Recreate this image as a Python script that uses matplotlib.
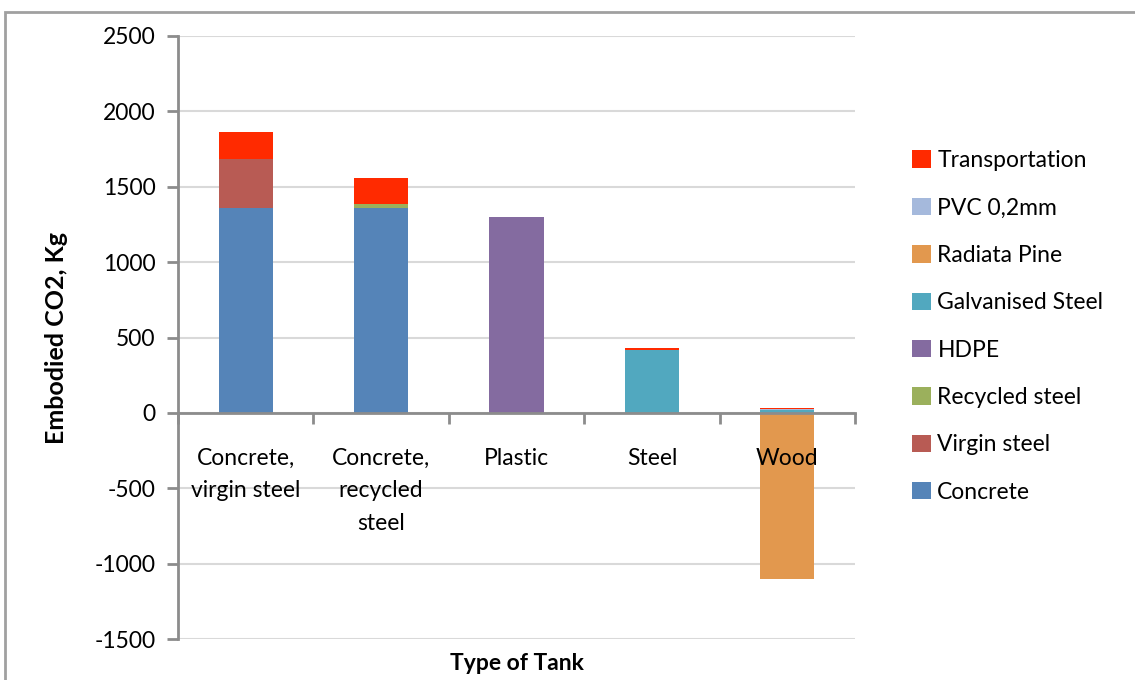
import numpy as np
import matplotlib.pyplot as plt
from matplotlib.patches import Rectangle

plt.rcParams['font.family'] = ['Lato', 'DejaVu Sans']
plt.rcParams['axes.unicode_minus'] = False

tanks = ["Concrete,\nvirgin steel", "Concrete,\nrecycled\nsteel", "Plastic", "Steel", "Wood"]

# embodied CO2 per material, kg
concrete = [1360, 1360, 0, 0, 0]
virgin_steel = [325, 0, 0, 0, 0]
recycled_steel = [0, 25, 0, 0, 0]
hdpe = [0, 0, 1300, 0, 0]
galvanised = [0, 0, 0, 420, 22]
radiata = [0, 0, 0, 0, -1100]
pvc = [0, 0, 0, 0, 5]
transport = [180, 175, 0, 8, 8]

series = [
    ("Concrete", concrete, "#5584B8"),
    ("Virgin steel", virgin_steel, "#B85B54"),
    ("Recycled steel", recycled_steel, "#9BB05C"),
    ("HDPE", hdpe, "#846BA0"),
    ("Galvanised Steel", galvanised, "#51A8BF"),
    ("Radiata Pine", radiata, "#E2984E"),
    ("PVC 0,2mm", pvc, "#A5B9DC"),
    ("Transportation", transport, "#FF2A00"),
]

fig = plt.figure(figsize=(11.35, 6.8), dpi=100)
ax = fig.add_axes([178/1135, 1 - 639/680, (855-178)/1135, (639-36)/680])

x = np.arange(len(tanks))
pos = np.zeros(len(tanks))
neg = np.zeros(len(tanks))
handles = []
for name, vals, col in series:
    vals = np.array(vals, dtype=float)
    base = np.where(vals >= 0, pos, neg)
    b = ax.bar(x, vals, width=0.4, bottom=base, color=col, label=name, zorder=3)
    handles.append(b)
    pos = pos + np.clip(vals, 0, None)
    neg = neg + np.clip(vals, None, 0)

ax.set_xlim(-0.5, 4.5)
ax.set_ylim(-1500, 2500)
ax.set_yticks(np.arange(-1500, 2501, 500))
ax.yaxis.grid(True, color="#d9d9d9", lw=1.5)
ax.yaxis.set_zorder(1)
ax.xaxis.set_zorder(5)

for s in ["top", "right"]:
    ax.spines[s].set_visible(False)
ax.spines["bottom"].set_position(("data", 0))
ax.spines["bottom"].set_color("#8c8c8c")
ax.spines["left"].set_color("#8c8c8c")
ax.spines["bottom"].set_linewidth(2)
ax.spines["left"].set_linewidth(2)
ax.spines["bottom"].set_zorder(4)

ax.set_xticks(x)
ax.set_xticklabels(tanks, fontsize=16.5, linespacing=1.7, va="top")
ax.tick_params(axis="x", which="major", length=0, pad=25)
ax.set_xticks(np.arange(-0.5, 4.6, 1), minor=True)
ax.tick_params(axis="x", which="minor", length=8, width=2, color="#8c8c8c")
ax.tick_params(axis="y", length=8, width=2, color="#8c8c8c", labelsize=16.5, pad=8)

ax.set_ylabel("Embodied CO2, Kg", fontsize=18, fontweight="bold", labelpad=19)
fig.text((178+855)/2/1135, 1 - 663/680, "Type of Tank", ha="center", va="center",
         fontsize=16.5, fontweight="bold")

fig.legend(handles[::-1], [h.get_label() for h in handles[::-1]],
           loc="upper left", bbox_to_anchor=(903/1135, 1 - 141/680),
           frameon=False, fontsize=16.5, handlelength=0.8, handleheight=0.8,
           handletextpad=0.3, labelspacing=1.15, borderaxespad=0)

fig.patches.append(Rectangle((5/1135, -0.1), 1.2, 1 - 12/680 + 0.1,
                             transform=fig.transFigure, fill=False,
                             edgecolor="#a0a0a0", lw=2))

fig.savefig("out.png", dpi=100)
